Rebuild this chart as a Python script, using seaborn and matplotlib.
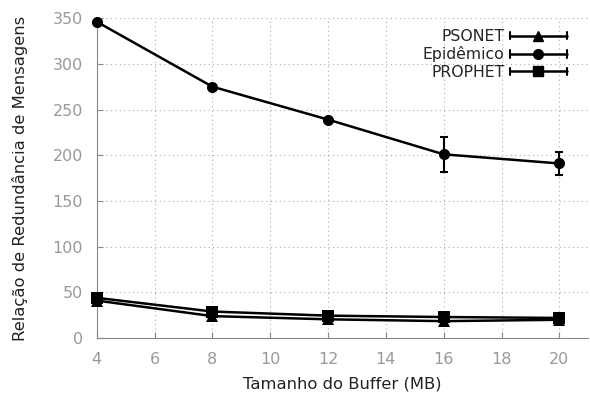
import numpy as np
import matplotlib
matplotlib.use("Agg")
import matplotlib.pyplot as plt
from matplotlib.legend_handler import HandlerBase
from matplotlib.lines import Line2D
import seaborn as sns
import pandas as pd

buffer_mb = [4, 8, 12, 16, 20]
psonet = [41, 24, 20.5, 18.5, 20]
psonet_err = [0, 0, 0, 0, 0]
epidemico = [346, 275, 239, 201, 191]
epidemico_err = [0, 0, 0, 19, 13]
prophet = [44, 29, 24.5, 23, 22]
prophet_err = [0, 0, 0, 0, 0]

sns.set_style("white")
plt.rcParams['font.family'] = ['DejaVu Sans']


class GnuplotKey(HandlerBase):
    # line with end caps and marker in the middle, like gnuplot's key
    def create_artists(self, legend, orig_handle, xdescent, ydescent,
                       width, height, fontsize, trans):
        y = height / 2 - ydescent
        x0, x1 = -xdescent, width - xdescent
        cap = height * 0.35
        mk = orig_handle.get_marker()
        arts = [
            Line2D([x0, x1], [y, y], color="black", lw=1.8),
            Line2D([x0, x0], [y - cap, y + cap], color="black", lw=1.5),
            Line2D([x1, x1], [y - cap, y + cap], color="black", lw=1.5),
            Line2D([(x0 + x1) / 2], [y], marker=mk, color="black", markersize=7),
        ]
        for a in arts:
            a.set_transform(trans)
        return arts


fig = plt.figure(figsize=(5.9, 3.94), dpi=100)
ax = fig.add_axes([0.164, 0.142, 0.833, 0.812])

series = [("PSONET", psonet, psonet_err, "^"),
          ("Epidêmico", epidemico, epidemico_err, "o"),
          ("PROPHET", prophet, prophet_err, "s")]

handles = []
for name, vals, err, mk in series:
    df = pd.DataFrame({"x": buffer_mb, "y": vals})
    sns.lineplot(data=df, x="x", y="y", ax=ax, color="black", lw=1.8,
                 marker=mk, markersize=8, markeredgecolor="black",
                 markeredgewidth=0, clip_on=False, zorder=3)
    ax.errorbar(buffer_mb, vals, yerr=err, fmt="none", ecolor="black",
                elinewidth=1.5, capsize=3, capthick=1.5, zorder=3)
    handles.append(Line2D([], [], color="black", marker=mk, label=name))

ax.legend(handles=handles, handler_map={Line2D: GnuplotKey()},
          loc="upper right", bbox_to_anchor=(0.975, 0.995),
          frameon=False, markerfirst=False, fontsize=11.3, handlelength=3.6,
          labelspacing=0.15, handletextpad=0.35, borderaxespad=0.2)

ax.set_xlim(4, 21)
ax.set_ylim(0, 350)
ax.set_xticks(range(4, 21, 2))
ax.set_yticks(range(0, 351, 50))
ax.grid(True, linestyle=(0, (1, 3)), color="#aaaaaa", lw=0.8)
for s in ["top", "right"]:
    ax.spines[s].set_visible(False)
for s in ["left", "bottom"]:
    ax.spines[s].set_color("#888888")
ax.tick_params(axis="both", colors="#888888", labelcolor="#999999",
               labelsize=11.5, direction="in", length=4, width=0.8,
               left=True, bottom=True, pad=10)
ax.set_xlabel("Tamanho do Buffer (MB)", fontsize=11.8, color="#222222")
ax.set_ylabel("Relação de Redundância de Mensagens", fontsize=11.8, color="#222222")
ax.xaxis.set_label_coords(0.5, -0.12)
ax.yaxis.set_label_coords(-0.14, 0.5)

fig.savefig("out.png", dpi=100)
